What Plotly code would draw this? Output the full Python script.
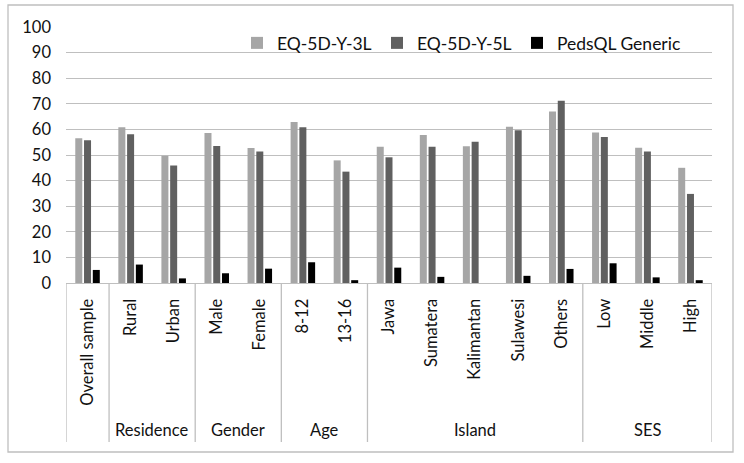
import plotly.graph_objects as go

categories = ["Overall sample", "Rural", "Urban", "Male", "Female", "8-12", "13-16",
              "Jawa", "Sumatera", "Kalimantan", "Sulawesi", "Others", "Low", "Middle", "High"]
groups = ["", "Residence", "Gender", "Age", "Island", "SES"]
group_sizes = [1, 2, 2, 2, 5, 3]

eq3l = [56.5, 60.8, 49.7, 58.6, 52.7, 62.9, 47.9, 53.2, 57.8, 53.4, 61.0, 67.0, 58.8, 52.8, 45.0]
eq5l = [55.8, 58.1, 45.9, 53.5, 51.4, 60.8, 43.5, 49.1, 53.2, 55.2, 59.7, 71.2, 57.0, 51.4, 34.8]
peds = [5.1, 7.2, 1.8, 3.8, 5.6, 8.1, 1.1, 6.0, 2.4, 0.0, 2.8, 5.5, 7.7, 2.2, 1.1]

series_names = ["EQ-5D-Y-3L", "EQ-5D-Y-5L", "PedsQL Generic"]
series_vals = [eq3l, eq5l, peds]
colors = ["#A6A6A6", "#606060", "#000000"]

FONT = "Lato"
FS = 16.5
LFS = 17.5
TXT = "#111111"
GRID = "#BFBFBF"

W, H = 744, 463
L, R, T, B = 66, 32, 27, 180
pw, ph = W - L - R, H - T - B

def py(pix):
    return (H - B - pix) / ph
def px(pix):
    return (pix - L) / pw

legend_ids = ["legend", "legend2", "legend3"]
legend_x = [237, 377, 517]

fig = go.Figure()
for name, vals, c, lid in zip(series_names, series_vals, colors, legend_ids):
    fig.add_trace(go.Bar(x=list(range(len(categories))), y=vals, name=name, legend=lid,
                         marker=dict(color=c, line=dict(width=0))))

shapes = []
annotations = []
bounds = [-0.5]
for s in group_sizes:
    bounds.append(bounds[-1] + s)
for b in bounds:
    shapes.append(dict(type="line", xref="x", yref="paper", x0=b, x1=b,
                       y0=0, y1=py(442), line=dict(color=GRID, width=1.3)))
for g, a, b in zip(groups, bounds[:-1], bounds[1:]):
    if g:
        annotations.append(dict(text=g, xref="x", yref="paper", x=(a + b) / 2, y=py(430),
                                showarrow=False, xanchor="center", yanchor="middle",
                                font=dict(family=FONT, size=FS, color=TXT)))

# outer chart border
shapes.append(dict(type="rect", xref="paper", yref="paper",
                   x0=px(8), x1=px(733), y0=py(452), y1=py(5),
                   line=dict(color="#BFBFBF", width=1.3), fillcolor="rgba(0,0,0,0)"))

legend_common = dict(orientation="h", yanchor="middle", xanchor="left",
                     bgcolor="rgba(0,0,0,0)", itemwidth=30,
                     font=dict(family=FONT, size=LFS, color=TXT))

fig.update_layout(
    width=W, height=H,
    margin=dict(l=L, r=R, t=T, b=B),
    paper_bgcolor="white", plot_bgcolor="white",
    barmode="group", bargap=0.39, bargroupgap=0.2,
    font=dict(family=FONT, size=FS, color=TXT),
    showlegend=True,
    legend=dict(x=px(legend_x[0]), y=py(43), **legend_common),
    legend2=dict(x=px(legend_x[1]), y=py(43), **legend_common),
    legend3=dict(x=px(legend_x[2]), y=py(43), **legend_common),
    shapes=shapes,
    annotations=annotations,
)
fig.update_xaxes(
    tickmode="array", tickvals=list(range(len(categories))), ticktext=categories,
    range=[-0.5, len(categories) - 0.5],
    tickangle=-90, ticks="", ticklabelstandoff=8,
    showline=True, linecolor=GRID, linewidth=1.3, showgrid=False,
    tickfont=dict(family=FONT, size=FS, color=TXT),
)
fig.update_yaxes(
    range=[0, 100], tickvals=list(range(0, 101, 10)),
    showgrid=True, gridcolor=GRID, gridwidth=1.3, zeroline=False, showline=False,
    ticks="", ticklabelstandoff=14,
    tickfont=dict(family=FONT, size=FS, color=TXT),
)

fig.write_html("out.html", config={"displayModeBar": False},
               post_script="document.body.style.margin='0';document.body.style.padding='0';")
